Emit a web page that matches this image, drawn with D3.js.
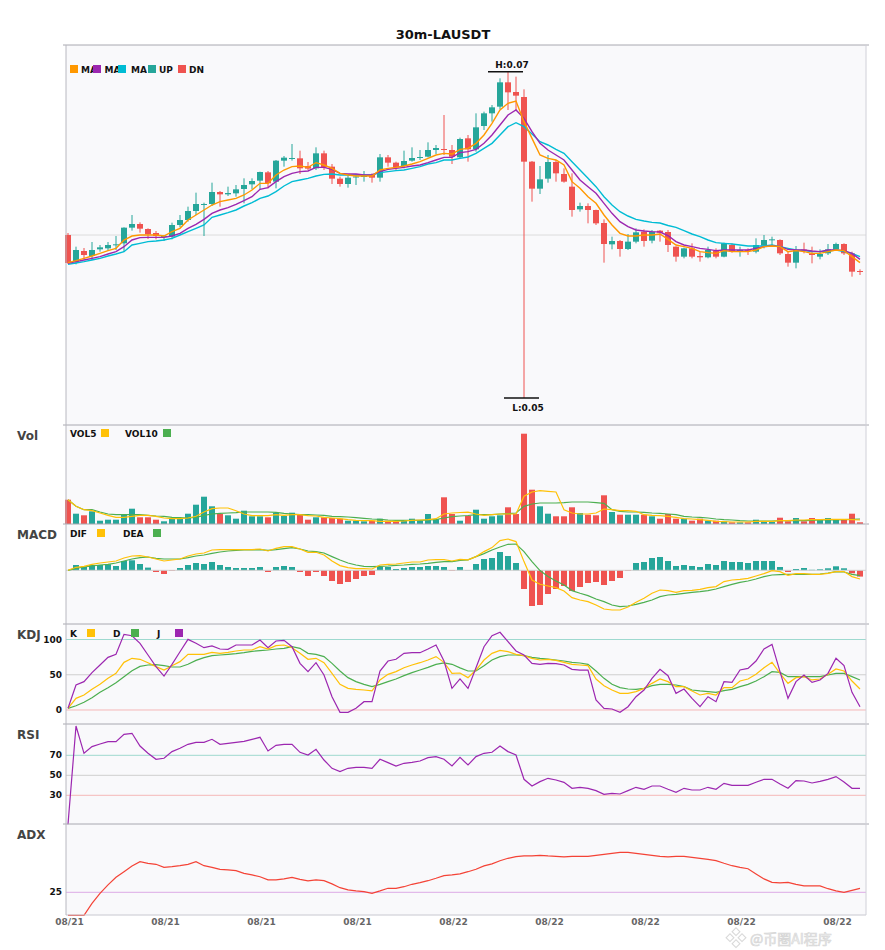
<!DOCTYPE html>
<html><head><meta charset="utf-8">
<script src="https://cdn.jsdelivr.net/npm/d3@7"></script>
<style>body{margin:0;background:#fff;} svg{display:block;font-family:"DejaVu Sans",sans-serif;}</style>
</head><body><svg id="c" width="885" height="950"></svg>
<script>
const title = "30m-LAUSDT";
const open = [0.06000,0.05840,0.05904,0.05874,0.05914,0.05920,0.05940,0.05950,0.06044,0.06066,
0.06036,0.06012,0.05988,0.05990,0.06060,0.06090,0.06144,0.06183,0.06186,0.06258,
0.06244,0.06250,0.06276,0.06304,0.06326,0.06376,0.06320,0.06446,0.06459,0.06460,
0.06414,0.06400,0.06490,0.06410,0.06338,0.06306,0.06348,0.06351,0.06360,0.06344,
0.06466,0.06434,0.06414,0.06446,0.06464,0.06470,0.06510,0.06516,0.06510,0.06466,
0.06580,0.06514,0.06654,0.06730,0.06770,0.06916,0.06858,0.06828,0.06440,0.06278,
0.06338,0.06438,0.06366,0.06290,0.06154,0.06174,0.06150,0.06072,0.05944,0.05964,
0.05916,0.05960,0.06020,0.05966,0.06026,0.06018,0.05930,0.05870,0.05920,0.05874,
0.05866,0.05906,0.05870,0.05940,0.05908,0.05911,0.05900,0.05936,0.05970,0.05970,
0.05886,0.05834,0.05913,0.05890,0.05870,0.05890,0.05914,0.05946,0.05890,0.05784];
const high = [0.06012,0.05930,0.05922,0.05958,0.05940,0.05958,0.05994,0.06046,0.06120,0.06076,
0.06040,0.06024,0.06000,0.06074,0.06120,0.06170,0.06254,0.06194,0.06314,0.06264,
0.06290,0.06300,0.06340,0.06340,0.06380,0.06384,0.06450,0.06474,0.06546,0.06506,
0.06438,0.06526,0.06506,0.06426,0.06350,0.06360,0.06366,0.06384,0.06370,0.06486,
0.06480,0.06440,0.06506,0.06526,0.06510,0.06556,0.06540,0.06720,0.06540,0.06584,
0.06600,0.06730,0.06740,0.06780,0.06940,0.06980,0.06950,0.06874,0.06444,0.06414,
0.06480,0.06450,0.06400,0.06370,0.06194,0.06190,0.06152,0.06094,0.05990,0.05970,
0.06006,0.06040,0.06034,0.06030,0.06030,0.06030,0.05932,0.05924,0.05950,0.05900,
0.05930,0.05920,0.05954,0.05950,0.05930,0.05920,0.05980,0.06000,0.05990,0.05974,
0.05900,0.05934,0.05954,0.05930,0.05914,0.05946,0.05954,0.05950,0.05900,0.05794];
const low = [0.05826,0.05824,0.05854,0.05850,0.05900,0.05906,0.05910,0.05900,0.06026,0.06014,
0.05976,0.05974,0.05964,0.05974,0.06046,0.06080,0.06120,0.05994,0.06174,0.06170,
0.06234,0.06230,0.06190,0.06274,0.06274,0.06280,0.06280,0.06410,0.06446,0.06366,
0.06390,0.06390,0.06390,0.06306,0.06290,0.06284,0.06300,0.06320,0.06314,0.06320,
0.06410,0.06390,0.06400,0.06440,0.06450,0.06466,0.06486,0.06480,0.06426,0.06460,
0.06440,0.06500,0.06630,0.06680,0.06754,0.06750,0.06750,0.05022,0.06200,0.06246,
0.06314,0.06320,0.06314,0.06110,0.06140,0.06070,0.06060,0.05834,0.05914,0.05870,
0.05910,0.05950,0.05930,0.05950,0.05960,0.05898,0.05840,0.05860,0.05860,0.05840,
0.05860,0.05860,0.05866,0.05894,0.05870,0.05880,0.05890,0.05920,0.05940,0.05880,
0.05810,0.05800,0.05890,0.05830,0.05854,0.05880,0.05906,0.05880,0.05750,0.05760];
const close = [0.05832,0.05910,0.05880,0.05910,0.05926,0.05940,0.05944,0.06044,0.06066,0.06038,
0.06004,0.05994,0.05994,0.06060,0.06090,0.06144,0.06186,0.06186,0.06258,0.06244,
0.06252,0.06274,0.06300,0.06324,0.06378,0.06310,0.06446,0.06464,0.06462,0.06400,
0.06398,0.06490,0.06406,0.06338,0.06306,0.06344,0.06351,0.06354,0.06344,0.06466,
0.06434,0.06406,0.06444,0.06462,0.06468,0.06510,0.06522,0.06512,0.06470,0.06576,
0.06514,0.06646,0.06730,0.06766,0.06916,0.06856,0.06836,0.06440,0.06278,0.06334,
0.06438,0.06370,0.06320,0.06150,0.06174,0.06150,0.06070,0.05946,0.05964,0.05916,
0.05960,0.06016,0.05964,0.06020,0.06014,0.05940,0.05870,0.05920,0.05870,0.05866,
0.05910,0.05870,0.05950,0.05900,0.05910,0.05909,0.05940,0.05970,0.05974,0.05890,
0.05834,0.05910,0.05907,0.05880,0.05886,0.05914,0.05946,0.05890,0.05780,0.05778];
const ma5 = [0.05834,0.05846,0.05860,0.05874,0.05890,0.05906,0.05920,0.05970,0.05994,0.06000,
0.06000,0.06000,0.05994,0.06020,0.06040,0.06090,0.06120,0.06150,0.06180,0.06200,
0.06210,0.06220,0.06240,0.06270,0.06310,0.06310,0.06360,0.06390,0.06410,0.06414,
0.06406,0.06434,0.06420,0.06400,0.06370,0.06360,0.06354,0.06354,0.06354,0.06390,
0.06400,0.06406,0.06414,0.06426,0.06440,0.06460,0.06480,0.06490,0.06486,0.06514,
0.06520,0.06550,0.06600,0.06670,0.06750,0.06790,0.06804,0.06680,0.06580,0.06480,
0.06460,0.06450,0.06420,0.06320,0.06280,0.06230,0.06190,0.06120,0.06060,0.06010,
0.05994,0.05994,0.06000,0.06000,0.06006,0.05974,0.05940,0.05930,0.05920,0.05900,
0.05894,0.05890,0.05906,0.05900,0.05900,0.05900,0.05910,0.05930,0.05934,0.05930,
0.05900,0.05906,0.05900,0.05890,0.05890,0.05900,0.05910,0.05906,0.05870,0.05834];
const ma10 = [0.05830,0.05840,0.05850,0.05860,0.05870,0.05886,0.05900,0.05930,0.05970,0.05984,
0.05986,0.05986,0.05986,0.05994,0.06010,0.06040,0.06064,0.06094,0.06130,0.06150,
0.06164,0.06184,0.06206,0.06230,0.06274,0.06284,0.06320,0.06350,0.06370,0.06380,
0.06384,0.06406,0.06406,0.06394,0.06370,0.06366,0.06366,0.06360,0.06360,0.06380,
0.06394,0.06400,0.06406,0.06414,0.06420,0.06434,0.06450,0.06466,0.06466,0.06494,
0.06500,0.06514,0.06550,0.06600,0.06660,0.06720,0.06750,0.06700,0.06620,0.06550,
0.06510,0.06480,0.06450,0.06390,0.06330,0.06290,0.06250,0.06190,0.06130,0.06080,
0.06050,0.06030,0.06024,0.06020,0.06018,0.05997,0.05960,0.05940,0.05930,0.05920,
0.05914,0.05906,0.05910,0.05910,0.05910,0.05910,0.05920,0.05930,0.05934,0.05930,
0.05914,0.05910,0.05910,0.05904,0.05900,0.05910,0.05910,0.05906,0.05890,0.05854];
const ma20 = [0.05824,0.05832,0.05840,0.05850,0.05860,0.05874,0.05886,0.05900,0.05940,0.05950,
0.05960,0.05964,0.05970,0.05980,0.06000,0.06020,0.06040,0.06060,0.06106,0.06120,
0.06134,0.06150,0.06174,0.06194,0.06220,0.06234,0.06260,0.06294,0.06320,0.06330,
0.06340,0.06354,0.06364,0.06366,0.06360,0.06360,0.06360,0.06360,0.06360,0.06374,
0.06380,0.06386,0.06390,0.06400,0.06410,0.06426,0.06434,0.06450,0.06450,0.06460,
0.06468,0.06490,0.06520,0.06550,0.06600,0.06650,0.06674,0.06650,0.06606,0.06560,
0.06540,0.06514,0.06490,0.06440,0.06390,0.06340,0.06290,0.06230,0.06180,0.06140,
0.06114,0.06094,0.06084,0.06076,0.06072,0.06057,0.06046,0.06026,0.06006,0.05990,
0.05970,0.05954,0.05950,0.05946,0.05940,0.05934,0.05934,0.05934,0.05940,0.05930,
0.05920,0.05910,0.05906,0.05900,0.05900,0.05904,0.05910,0.05900,0.05890,0.05870];
// volume (thousands)
const volume = [243,103,87,127,33,43,43,93,153,67,67,43,27,60,53,103,193,273,177,100,
87,53,133,77,77,67,110,80,113,93,43,67,67,60,53,33,33,27,33,53,
33,27,33,53,33,100,47,267,100,33,82,143,53,77,87,167,100,903,343,177,
103,77,77,167,110,93,87,287,120,93,93,93,93,77,53,100,53,53,33,53,
33,33,27,17,17,17,43,20,20,63,27,60,27,60,43,60,43,43,103,17];
const vol5 = [243,177,143,133,110,87,67,67,77,87,87,77,60,53,53,60,77,120,153,160,
160,133,100,83,83,83,93,87,93,93,83,80,67,60,53,43,37,33,33,27,
27,27,30,37,40,43,53,100,110,115,118,100,87,93,100,100,100,277,320,333,
327,320,143,110,100,100,110,150,143,133,133,127,93,87,83,77,67,53,50,43,
37,27,23,20,20,20,27,27,27,33,33,40,40,43,43,47,47,47,43,40];
const vol10 = [243,177,143,143,120,100,93,93,93,93,87,80,77,67,63,60,67,87,100,107,
110,113,120,120,120,120,117,107,100,93,93,90,87,77,73,70,63,57,50,47,
40,37,37,37,37,40,43,60,73,80,85,93,93,93,100,103,110,177,200,210,
210,210,213,220,220,220,213,207,143,127,120,120,117,110,107,100,93,77,70,67,
60,50,43,40,33,30,30,30,30,33,33,33,33,37,40,40,40,43,47,50];
// MACD (x1e-5)
const dif = [0,3,4,6,7.3,8.3,9.3,12.3,14.3,14.7,13.3,11.3,9.3,10.3,11.3,14.3,16.3,17.3,20.3,20.7,
20.7,20.7,20.7,20.7,21.3,19.3,22,23.7,23.7,21.3,18,18,15.3,9.3,4.7,2.7,1.7,1.7,1.3,5.3,
6,6.3,7.3,8.3,8.3,10.3,10.7,10.7,9.3,11,10.5,13.7,18.7,22.7,29.7,31.3,28.7,8.7,-9.7,-14,
-15.7,-17.3,-20.7,-27.3,-29.7,-31.3,-34.7,-38.7,-39.7,-39.7,-36.7,-32,-28,-23,-19.7,-20.3,-22,-20.3,-20,-19,
-17.3,-16.3,-11.3,-9.7,-9,-8,-5.7,-3.3,-0.3,-1.3,-5,-3.3,-3.3,-4,-4,-3,-1.3,-1.3,-6.3,-8.7];
const dea = [0,2,3.3,4.3,5.3,6,7.3,9.3,11.3,12.7,13.3,12,11.3,11.3,11.3,12.7,14.3,15.3,17,18.3,
19.3,20,20.3,20.3,20.7,20,20.7,21.7,22.7,21.3,19.3,18.7,17.3,13.7,10.3,7.3,5.3,4,3.7,4,
4.3,5,5.3,6,6.3,7,8,8.7,8.7,10,10.5,13.7,16.7,20.3,23.3,26,26.3,18.7,8.7,-0.3,
-6.3,-10.7,-14.7,-20.3,-23,-25.3,-28.7,-31.3,-34.7,-36.3,-35.7,-34,-32,-29.7,-26.3,-24.7,-24,-23,-22,-21.3,
-20.3,-18.7,-16.3,-14,-12,-10.7,-8.7,-6.3,-4.7,-4.3,-4,-4,-4,-4,-3.7,-2.7,-1.3,-1.7,-4,-5.3];
const macd = [0,5.3,3.7,5.3,5.3,6,4.3,9.3,10,6.3,2.7,-1.7,-3.7,-0.7,2.3,5.3,7.3,6.3,8.3,5.3,
3.3,2.3,2.3,2.3,3.3,-1.7,3.3,4.3,3.3,-1.7,-5.7,-1.7,-5.7,-10.7,-13.7,-11.7,-8.7,-5.7,-4.7,3.7,
3.3,1.3,2.3,3.3,3.3,4.3,4.3,3.3,-0.7,3.3,0.3,6.3,11.3,12.3,18.3,14.3,7.3,-18.7,-35.7,-34.7,
-23.7,-18.7,-15.7,-20.7,-16.7,-12.7,-11.7,-14.7,-10.7,-7.7,-0.7,7.3,8.3,12.3,13.3,9.3,4.3,5.3,4.3,3.3,
6.3,5.3,9.3,8.3,8.3,7.3,9.3,9.3,9.3,3.3,-1.7,1.3,2.3,0.5,1,2,4,2,-3,-6.3];
const kVals = [2.4,16.5,21.3,29.3,36.4,45,52,67.6,73.3,71.9,67.1,61.5,56.7,62.9,68.6,79,79,79,81.8,80.4,
81.8,83.7,85.1,85.1,89.8,86.5,91.3,92.2,88.4,80.4,71.9,73.3,67.1,52,36.4,30.7,29.3,28.4,27,42.6,
50.6,54.4,60,63.8,67.1,70.9,75.7,67.6,52,52.5,45.9,56.7,70.9,80.4,84.6,82.7,79,77.1,73.3,70.9,
71.9,70.4,67.6,64.8,63.8,62.9,44,34.5,28.4,23.6,23.6,26,30.7,37.8,44,40.2,33.1,33.1,27,21.3,
23.6,21.3,31.7,31.7,41.1,44,50.6,60,67.6,52,37.8,45.9,47.3,42.6,44,50.6,58.2,55.3,41.1,29.8];
const dVals = [2.4,6.1,10.9,17.5,25.1,31.7,38.8,47.3,55.8,61.9,63.8,64.3,62.9,61,61,64.8,70.4,74.2,77.1,78,
79,79.9,81.3,83.2,84.2,85.1,86.5,87.5,89.8,87.5,80.4,79,75.7,66.2,55.3,45.9,40.2,36.4,33.1,36.4,
40.2,44,48.7,53,56.7,60.5,64.8,66.7,64.8,59.8,55.3,55.3,62.9,70.9,75.7,78,78,77.1,74.7,73.3,
72.3,70.9,69.5,67.6,66.7,64.8,55.3,44.9,36.4,31.7,29.8,29.3,30.7,34.5,36.4,36.4,35.5,33.1,28.4,27,
26,25.1,27.4,29.3,33.1,36.4,41.1,47.3,54.4,53.4,47.3,47.3,47.3,47.3,47.3,49.6,52,52,47.3,42.6];
const jVals = [2.4,35.5,40.2,53,63.8,74.7,79,107.3,105.4,94.6,78,61.5,48.2,64.8,82.7,100.2,94.6,88.4,90.8,86.5,
86.1,92.2,92.2,92.2,99.3,88.4,97.9,98.8,89.8,66.2,54.4,67.1,49.6,18.9,-3.3,-3.3,2.4,11.8,11.8,55.3,
69.5,71.9,80.4,81.3,81.3,86.5,92.2,69.5,30.7,44,30.7,60,89.8,105.4,110.2,96.9,83.7,78,66.2,64.8,
66.2,65.7,63.8,57.7,56.7,56.7,14.2,2.4,1.4,-3.3,4.7,18.9,28.4,44.9,57.7,48.7,23.6,29.8,16.5,4.7,
18.9,11.8,40.2,39.2,56.7,59.1,69.5,86.5,93.1,54.4,16.5,40.2,49.6,39.2,42.6,52,73.3,62.9,25.1,4.7];
const rsi = [1,99.3,72,78.7,81.3,83.7,83.7,91,92,79.3,72,66,67,73.7,77,81,83,83,86,81,
82,83,84,86,88,74.3,80,81,81,73,70.3,76,65.3,57,53.7,57,58,58,57,66,
62.7,59.3,62,63,64.3,67.7,68.7,66,59.3,68,60.3,68.7,72,73,79.3,73.7,70.3,46,39.3,43.7,
47,45.3,43,37,38,37,34.7,31,32,31.3,34.7,38,36,39.3,39.3,36,33,37,35.3,35.3,
38,36,42,40,40,40,43,46,46,41.3,37,44.7,44.3,42.3,44,46,48.7,43.3,37,37];
const adx = [13.5,13.5,13.5,19.5,24.5,28.7,32.5,35.3,38.2,40.3,39.5,39,37.5,37.8,38.3,39,40.3,38.3,37.5,36.5,
36.2,35.8,34.5,33.7,32.8,31.2,31.2,31.7,32.5,31.5,30.7,31.2,30.8,29.2,27.3,26.2,25.7,25.3,24.5,25.7,
27,27,27.8,29,29.8,30.8,32,33.3,33.7,34.2,35.3,36.5,38.2,39.2,40.8,42,42.8,43.2,43.2,43.5,
43.2,43,42.7,43,43,43,43.5,44,44.5,45,45,44.5,44,43.5,43,42.7,43,43,42.5,42,
41.5,40.8,39.5,38.3,37.5,36.8,34.2,31.7,30,29.7,30,29,28.2,28.2,28.2,26.8,25.7,25,26,27];
const tickLabels = ['08/21','08/21','08/21','08/21','08/22','08/22','08/22','08/22','08/22'];
const kdjTicks = [100,50,0];
const rsiTicks = [70,50,30];
const adxTicks = [25];

const UP='#26a69a', DN='#ef5350';
const C = {ma5:'#ff9800', ma10:'#9c27b0', ma20:'#00bcd4', yel:'#ffc107', grn:'#4caf50', pur:'#9c27b0', adx:'#f44336'};
const PL=66, PR=866;
const P = {main:[45,425], vol:[425,524], macd:[524,624], kdj:[624,724], rsi:[724,824], adx:[824,915]};

const svg = d3.select('#c');
const idx = d3.range(close.length);
const x = d3.scaleBand().domain(idx).range([64,864]).paddingInner(0.25).paddingOuter(0.125);
const cx = i => x(i) + x.bandwidth()/2;

const yP = d3.scaleLinear().domain([0.0486,0.0714]).range([P.main[1],P.main[0]]);
const yV = d3.scaleLinear().domain([0,990]).range([P.vol[1],P.vol[0]]);
const yM = d3.scaleLinear().domain([-53.7,46.3]).range([P.macd[1],P.macd[0]]);
const yK = d3.scaleLinear().domain([-19.86,121.99]).range([P.kdj[1],P.kdj[0]]);
const yR = d3.scaleLinear().domain([0,100]).range([825.3,725.3]);
const yA = d3.scaleLinear().domain([13.5,59.15]).range([915.3,824]);

// backgrounds
svg.append('rect').attr('x',PL).attr('y',45).attr('width',PR-PL).attr('height',915-45).attr('fill','#f9f9fb');

// title
svg.append('text').attr('x',443).attr('y',39).attr('text-anchor','middle')
  .attr('font-size',13).attr('font-weight','bold').attr('fill','#111').text(title);

// grid lines
function hline(y, color){ svg.append('line').attr('x1',PL).attr('x2',PR).attr('y1',y).attr('y2',y).attr('stroke',color).attr('stroke-width',1); }
hline(yP(0.06), '#dcdcdc');
const lvlColor = ['#9ed9cf','#cfcfcf','#f5b8b8'];
kdjTicks.forEach((v,k)=>hline(yK(v), lvlColor[k]));
rsiTicks.forEach((v,k)=>hline(yR(v), lvlColor[k]));
adxTicks.forEach(v=>hline(yA(v), '#dcaae6'));

// tick labels
function tlabel(y, t){ svg.append('text').attr('x',62).attr('y',y).attr('dy','0.35em').attr('text-anchor','end')
  .attr('font-size',9).attr('font-weight','bold').attr('fill','#111').text(t); }
kdjTicks.forEach(v=>tlabel(yK(v), v));
rsiTicks.forEach(v=>tlabel(yR(v), v));
adxTicks.forEach(v=>tlabel(yA(v), v));

// candles
const g = svg.append('g');
idx.forEach(i=>{
  const col = close[i]>=open[i]?UP:DN;
  g.append('line').attr('x1',cx(i)).attr('x2',cx(i)).attr('y1',yP(high[i])).attr('y2',yP(low[i])).attr('stroke',col).attr('stroke-width',1);
  const y0 = yP(Math.max(open[i],close[i])), y1 = yP(Math.min(open[i],close[i]));
  g.append('rect').attr('x',x(i)).attr('width',x.bandwidth()).attr('y',y0).attr('height',Math.max(1,y1-y0)).attr('fill',col);
});
function drawLine(vals, ys, color, w){
  svg.append('path').datum(vals).attr('fill','none').attr('stroke',color).attr('stroke-width',w||1.2)
    .attr('d', d3.line().x((d,i)=>cx(i)).y(d=>ys(d)));
}
drawLine(ma20, yP, C.ma20, 1.4);
drawLine(ma10, yP, C.ma10, 1.4);
drawLine(ma5, yP, C.ma5, 1.4);

// high / low markers
const hi = d3.maxIndex(high), lo = d3.minIndex(low);
const f2 = d3.format('.2f');
svg.append('line').attr('x1',cx(hi)-20).attr('x2',cx(hi)+15).attr('y1',yP(high[hi])).attr('y2',yP(high[hi])).attr('stroke','#111').attr('stroke-width',1.5);
svg.append('text').attr('x',cx(hi)+4).attr('y',yP(high[hi])-4).attr('text-anchor','middle').attr('font-size',9).attr('font-weight','bold').attr('fill','#111').text('H:'+f2(high[hi]));
svg.append('line').attr('x1',cx(lo)-20).attr('x2',cx(lo)+15).attr('y1',yP(low[lo])).attr('y2',yP(low[lo])).attr('stroke','#111').attr('stroke-width',1.5);
svg.append('text').attr('x',cx(lo)+4).attr('y',yP(low[lo])+13).attr('text-anchor','middle').attr('font-size',9).attr('font-weight','bold').attr('fill','#111').text('L:'+f2(low[lo]));

// volume
idx.forEach(i=>{
  const col = close[i]>=open[i]?UP:DN;
  svg.append('rect').attr('x',x(i)).attr('width',x.bandwidth()).attr('y',yV(volume[i])).attr('height',yV(0)-yV(volume[i])).attr('fill',col);
});
drawLine(vol10, yV, C.grn, 1.2);
drawLine(vol5, yV, C.yel, 1.2);

// MACD
idx.forEach(i=>{
  const v = macd[i]; if(!v) return;
  const col = v>=0?UP:DN;
  svg.append('rect').attr('x',x(i)).attr('width',x.bandwidth()).attr('y',Math.min(yM(0),yM(v))).attr('height',Math.abs(yM(v)-yM(0))).attr('fill',col);
});
hline(yM(0), '#cfcfcf');
drawLine(dea, yM, C.grn, 1.2);
drawLine(dif, yM, C.yel, 1.2);

// KDJ
drawLine(dVals, yK, C.grn, 1.2);
drawLine(kVals, yK, C.yel, 1.2);
drawLine(jVals, yK, C.pur, 1.2);
// RSI
drawLine(rsi, yR, C.pur, 1.2);
// ADX
drawLine(adx, yA, C.adx, 1.2);

// borders
Object.values(P).forEach(([t,b])=>{
  svg.append('line').attr('x1',PL).attr('x2',PR).attr('y1',t).attr('y2',t).attr('stroke','#a8a8b0').attr('stroke-width',1);
  svg.append('line').attr('x1',PL-3).attr('x2',PL).attr('y1',t).attr('y2',t).attr('stroke','#a8a8b0');
  svg.append('line').attr('x1',PR).attr('x2',PR+3).attr('y1',t).attr('y2',t).attr('stroke','#a8a8b0');
});
svg.append('line').attr('x1',PL).attr('x2',PR).attr('y1',915).attr('y2',915).attr('stroke','#c8c8d0');
svg.append('line').attr('x1',PL).attr('x2',PL).attr('y1',45).attr('y2',915).attr('stroke','#b8b8c0');
svg.append('line').attr('x1',PR).attr('x2',PR).attr('y1',45).attr('y2',915).attr('stroke','#d0d0d8');

// panel labels
[['Vol',P.vol[0]],['MACD',P.macd[0]],['KDJ',P.kdj[0]],['RSI',P.rsi[0]],['ADX',P.adx[0]]].forEach(([t,top])=>{
  svg.append('text').attr('x',17).attr('y',top+15).attr('font-size',12).attr('font-weight','bold').attr('fill','#444').text(t);
});

// legends
function legendItem(sx, tx, color, label, y, clipTo){
  if(clipTo){
    const s = svg.append('svg').attr('x',tx).attr('y',y-10).attr('width',clipTo-tx).attr('height',14).style('overflow','hidden');
    s.append('text').attr('x',0).attr('y',10).attr('font-size',9).attr('font-weight','bold').attr('fill','#111').text(label);
  } else {
    svg.append('text').attr('x',tx).attr('y',y).attr('font-size',9).attr('font-weight','bold').attr('fill','#111').text(label);
  }
  svg.append('rect').attr('x',sx).attr('y',y-7.5).attr('width',8).attr('height',8).attr('fill',color);
}
legendItem(70, 81, C.ma5, 'MA5', 72.5, 93);
legendItem(93, 104.5, C.ma10, 'MA10', 72.5, 118);
legendItem(118, 131, C.ma20, 'MA20', 72.5, 147);
legendItem(148, 159, UP, 'UP', 72.5);
legendItem(178, 189, DN, 'DN', 72.5);
// text-then-square legends
function legend2(tx, sx, color, label, y){
  svg.append('text').attr('x',tx).attr('y',y).attr('font-size',9).attr('font-weight','bold').attr('fill','#111').text(label);
  svg.append('rect').attr('x',sx).attr('y',y-8).attr('width',8).attr('height',8).attr('fill',color);
}
legend2(70,101,C.yel,'VOL5',437); legend2(125,163,C.grn,'VOL10',437);
legend2(70,97,C.yel,'DIF',537); legend2(123,153,C.grn,'DEA',537);
legend2(70,87,C.yel,'K',637); legend2(113,131,C.grn,'D',637); legend2(157,175,C.pur,'J',637);

// x axis
const xAxis = d3.axisBottom(x).tickValues(d3.range(0, close.length, 12))
  .tickFormat((d,k)=>tickLabels[k]).tickSize(0).tickPadding(4);
const ax = svg.append('g').attr('transform','translate(1.5,915)').call(xAxis);
ax.select('.domain').remove();
ax.selectAll('text').attr('font-size',9).attr('font-weight','bold').attr('fill','#666').attr('font-family','DejaVu Sans');

// watermark (kept just below the axis labels)
const wm = svg.append('g').attr('opacity',0.55);
[[730,938],[736,932],[736,944],[742,938]].forEach(([a,b])=>{
  wm.append('rect').attr('x',a-3).attr('y',b-3).attr('width',5.5).attr('height',5.5).attr('transform',`rotate(45 ${a} ${b})`)
    .attr('fill','none').attr('stroke','#bbb').attr('stroke-width',1.1);
});
wm.append('text').attr('x',750).attr('y',944).attr('font-size',14).attr('font-family','"Noto Sans CJK SC"')
  .attr('fill','#e6e6e6').attr('stroke','#b8b8b8').attr('stroke-width',0.7).text('@币圈AI程序');
</script></body></html>
